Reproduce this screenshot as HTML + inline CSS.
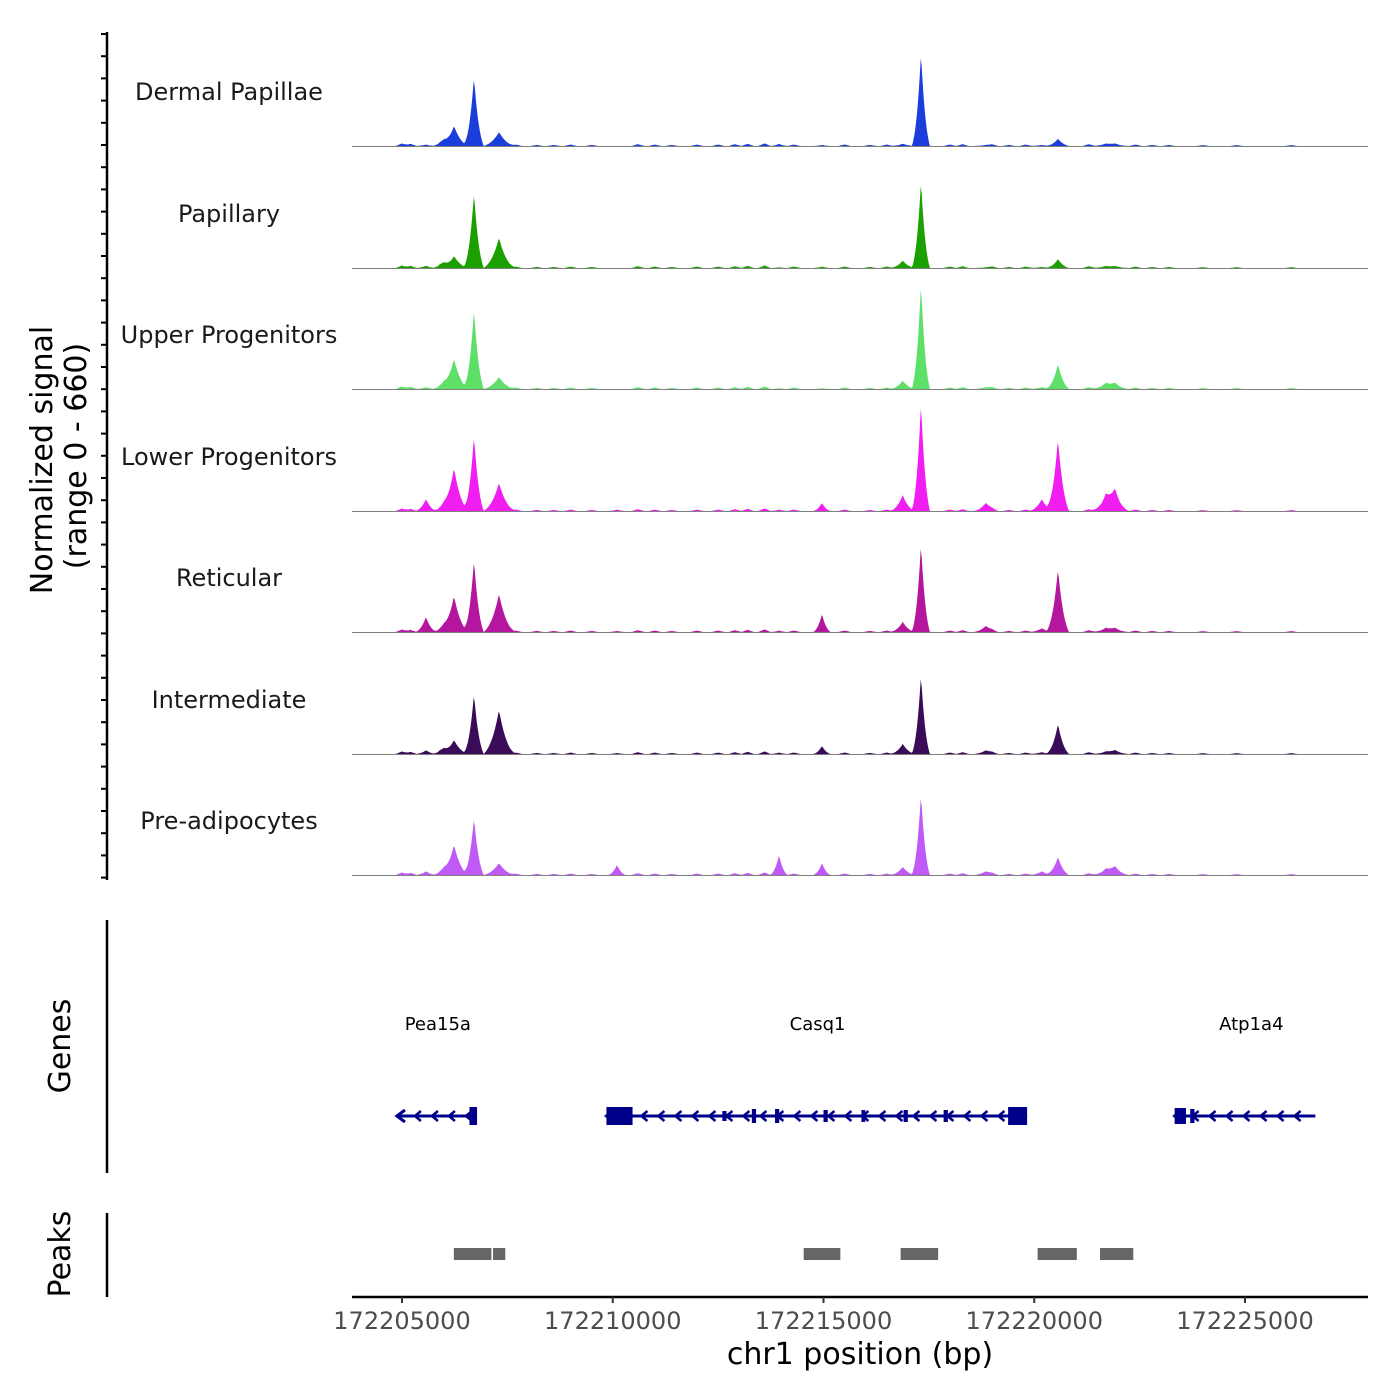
<!DOCTYPE html>
<html><head><meta charset="utf-8"><style>
body{margin:0;background:#fff}
svg{display:block;font-family:"DejaVu Sans","Liberation Sans",sans-serif}
</style></head><body>
<svg id="c" width="1400" height="1400" viewBox="0 0 1400 1400">
<g id="tracks"></g>
<g id="axes"></g>
<g id="genes"></g>
<g id="peaks"></g>
</svg>
<script>
const trackNames=["Dermal Papillae","Papillary","Upper Progenitors","Lower Progenitors","Reticular","Intermediate","Pre-adipocytes"];
const trackColors=["#1a3ddc","#1ca000","#5ee068","#f01ef0","#b4179e","#3a0b58","#c05af6"];
const peakPos=[172205569,172206234,172206708,172207301,172210100,172213944,172214964,172216880,172217313,172218850,172220180,172220563,172221700,172221916];
const peakWidth=[240,330,230,360,200,200,200,280,210,280,280,260,340,320];
const sig0=[8,109,376,76,0,12,6,12,507,6,6,40,12,12];
const sig1=[12,65,409,164,0,4,8,40,474,4,6,49,10,10];
const sig2=[10,164,431,65,0,4,4,45,573,10,10,136,30,30];
const sig3=[65,234,409,153,8,8,44,87,589,44,65,393,80,109];
const sig4=[82,196,393,207,6,8,98,55,480,33,20,344,20,20];
const sig5=[20,76,327,240,6,8,44,55,431,20,10,164,12,20];
const sig6=[20,164,311,65,55,109,65,44,442,20,20,98,30,44];
const signals=[sig0,sig1,sig2,sig3,sig4,sig5,sig6];
const noisePos=[172205000,172205200,172205900,172206000,172207700,172208200,172208600,172209000,172209500,172210600,172211000,172211400,172212000,172212500,172212900,172213200,172213600,172214300,172215500,172216100,172216500,172218000,172218300,172219000,172219400,172219800,172221300,172222400,172222800,172223200,172224000,172224800,172226100];
const noiseVal=[14,12,16,18,8,6,6,8,6,10,8,6,8,8,10,12,14,8,8,6,8,8,10,8,6,8,10,8,6,6,5,5,5];
const xTicks=[172205000,172210000,172215000,172220000,172225000];
const genes=["Pea15a","Casq1","Atp1a4"];
const geneStart=[172204880,172209850,172223330];
const geneEnd=[172206780,172219830,172226670];
const geneLabelPos=[172205850,172214860,172225150];
const exonStart=[172206600,172209850,172212600,172213300,172213850,172215000,172215900,172216900,172217850,172219380,172223330,172223700];
const exonEnd=[172206780,172210470,172212700,172213400,172213950,172215100,172215990,172217000,172217950,172219830,172223600,172223800];
const exonH=[18,18,10,14,14,12,12,12,12,18,16,14];
const peakStart=[172206230,172207160,172214530,172216830,172220080,172221560];
const peakEnd=[172207120,172207450,172215400,172217720,172221010,172222350];

const NS="http://www.w3.org/2000/svg";
const x0=172205000,px0=402,k=843/20000;
const xs=b=>px0+(b-x0)*k;
const trackH=121,vmax=660,baselines=[146,268,389,511,632,754,875];
const ys=(v,i)=>baselines[i]-v/vmax*trackH;
function mk(t,a,p){const e=document.createElementNS(NS,t);for(const q in a)e.setAttribute(q,a[q]);(p).appendChild(e);return e;}
const T=document.getElementById('tracks'),A=document.getElementById('axes'),G=document.getElementById('genes'),P=document.getElementById('peaks');

signals.forEach((s,i)=>{
  let d=`M${xs(172204780)},${baselines[i]}`;
  for(let px=xs(172204780);px<=1330;px+=1){
    const b=x0+(px-px0)/k;let v=0;
    peakPos.forEach((p,j)=>{const r=Math.abs(b-p)/peakWidth[j];if(r<1)v+=s[j]*(0.6*Math.pow(1-r,2.5)+0.4*(1-r));});
    noisePos.forEach((p,j)=>{const r=Math.abs(b-p)/150;if(r<1)v+=noiseVal[j]*(1-r);});
    d+=`L${px},${ys(Math.min(v,vmax),i).toFixed(1)}`;
  }
  d+=`L1330,${baselines[i]}Z`;
  const path=mk('path',{d,fill:trackColors[i]},T);
  
  
  const bl=mk('line',{x1:352,x2:1368,y1:baselines[i]+0.5,y2:baselines[i]+0.5,stroke:'#7f7f7f','stroke-width':1},T);
  
  
  const lab=mk('text',{x:229,y:baselines[i]-46,'text-anchor':'middle','font-size':24,fill:'#1a1a1a'},T);
  lab.textContent=trackNames[i];
  
  
});

mk('line',{x1:107,x2:107,y1:32,y2:880,stroke:'#000','stroke-width':2.5},A);
for(let y=34;y<=878;y+=22.2){mk('line',{x1:101,x2:107,y1:y,y2:y,stroke:'#000','stroke-width':2},A);}
mk('line',{x1:107,x2:107,y1:920,y2:1173,stroke:'#000','stroke-width':2.5},A);
mk('line',{x1:107,x2:107,y1:1213,y2:1297,stroke:'#000','stroke-width':2.5},A);
const yt=mk('text',{transform:'translate(52,460) rotate(-90)','text-anchor':'middle','font-size':30},A);
yt.textContent='Normalized signal';


const yt2=mk('text',{transform:'translate(86,456) rotate(-90)','text-anchor':'middle','font-size':30},A);
yt2.textContent='(range 0 - 660)';


const gt=mk('text',{transform:'translate(70,1046) rotate(-90)','text-anchor':'middle','font-size':30},A);
gt.textContent='Genes';


const pt=mk('text',{transform:'translate(70,1254) rotate(-90)','text-anchor':'middle','font-size':30},A);
pt.textContent='Peaks';


mk('line',{x1:352,x2:1368,y1:1297,y2:1297,stroke:'#000','stroke-width':2.5},A);
xTicks.forEach(t=>{
  mk('line',{x1:xs(t),x2:xs(t),y1:1297,y2:1303,stroke:'#333','stroke-width':2},A);
  const tl=mk('text',{x:xs(t),y:1329,'text-anchor':'middle','font-size':24,fill:'#4d4d4d'},A);
  tl.textContent=t;
  
  
});
const xt=mk('text',{x:860,y:1364,'text-anchor':'middle','font-size':30},A);
xt.textContent='chr1 position (bp)';



const gy=1116,gc='#00008b';
genes.forEach((g,i)=>{
  const a=xs(geneStart[i]),b=xs(geneEnd[i]);
  mk('line',{x1:a,x2:b,y1:gy,y2:gy,stroke:gc,'stroke-width':3},G);
  mk('path',{d:`M${a+8},${gy-6}L${a},${gy}L${a+8},${gy+6}`,fill:'none',stroke:gc,'stroke-width':3},G);
  for(let x=a+20;x<b-6;x+=17){mk('path',{d:`M${x+4},${gy-5}L${x-2},${gy}L${x+4},${gy+5}`,fill:'none',stroke:gc,'stroke-width':2.5},G);}
  const gl=mk('text',{x:xs(geneLabelPos[i]),y:1030,'text-anchor':'middle','font-size':18,fill:'#000'},G);
  gl.textContent=g;
  
  
});
exonStart.forEach((s,i)=>{
  const r=mk('rect',{x:xs(s),y:gy-exonH[i]/2,width:Math.max(3,xs(exonEnd[i])-xs(s)),height:exonH[i],fill:gc},G);
  
  
});
peakStart.forEach((s,i)=>{
  const r=mk('rect',{x:xs(s),y:1248,width:xs(peakEnd[i])-xs(s),height:12,fill:'#666'},P);
  
  
});
</script>
</body></html>
